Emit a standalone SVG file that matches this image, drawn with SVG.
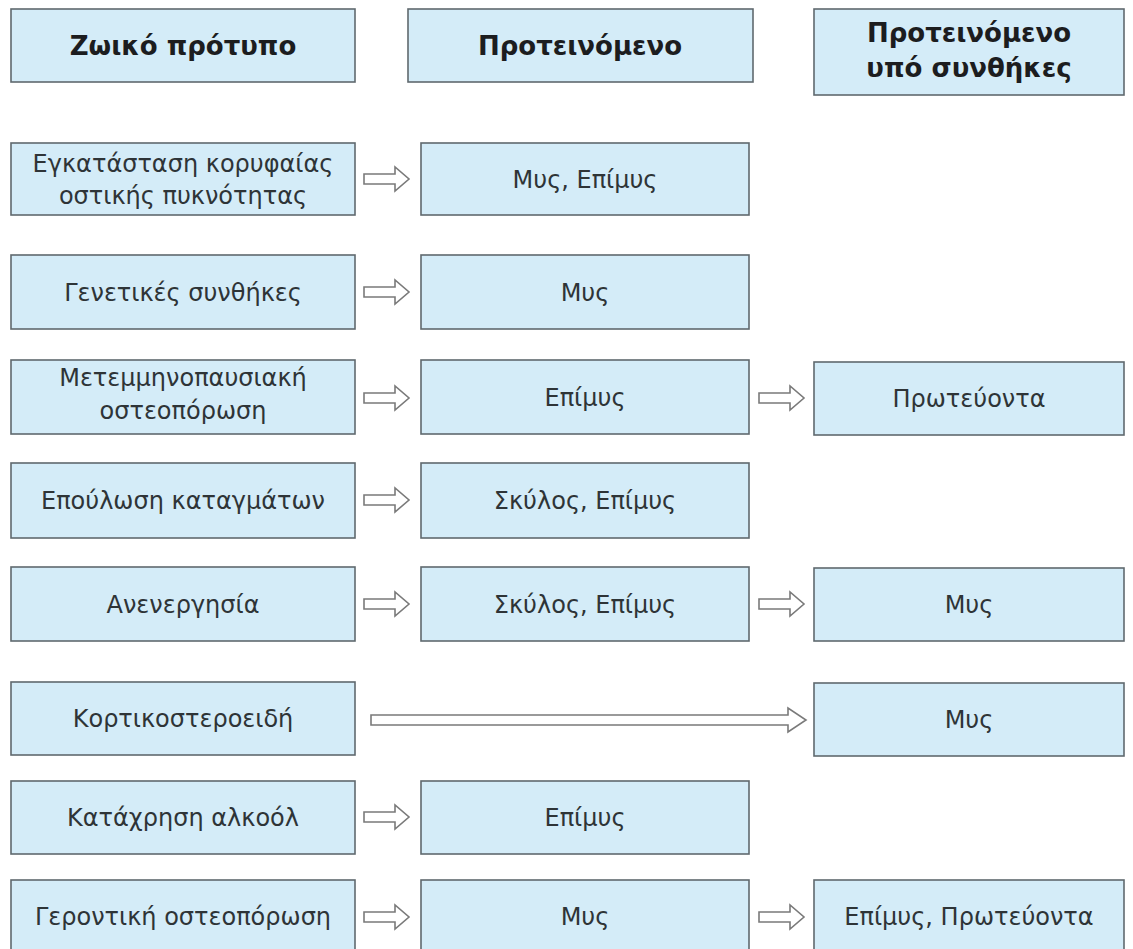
<svg xmlns="http://www.w3.org/2000/svg" width="1133" height="949" viewBox="0 0 1133 949">
<style>
.box{fill:#d4ecf8;stroke:#5f696e;stroke-width:1.6}
.hd{font-family:"DejaVu Sans","Liberation Sans",sans-serif;font-weight:bold;font-size:26px;fill:#1c1d1f;text-anchor:middle}
.tx{font-family:"DejaVu Sans","Liberation Sans",sans-serif;font-size:24px;fill:#2e3437;text-anchor:middle}
.ar{fill:#ffffff;stroke:#7a7a7a;stroke-width:1.6;stroke-linejoin:miter}
</style>
<rect width="1133" height="949" fill="#ffffff"/>
<g id="header1"><rect class="box" x="11" y="9" width="344" height="73"/><text class="hd" x="183" y="55">Ζωικό πρότυπο</text></g>
<g id="header2"><rect class="box" x="408" y="9" width="345" height="73"/><text class="hd" x="580" y="55">Προτεινόμενο</text></g>
<g id="header3"><rect class="box" x="814" y="9" width="310" height="86"/><text class="hd" x="969" y="42">Προτεινόμενο</text><text class="hd" x="969" y="77">υπό συνθήκες</text></g>

<g id="r1a"><rect class="box" x="11" y="143" width="344" height="72"/><text class="tx" x="183" y="172">Εγκατάσταση κορυφαίας</text><text class="tx" x="183" y="204">οστικής πυκνότητας</text></g>
<g id="r1b"><rect class="box" x="421" y="143" width="328" height="72"/><text class="tx" x="585" y="188">Μυς, Επίμυς</text></g>

<g id="r2a"><rect class="box" x="11" y="255" width="344" height="74"/><text class="tx" x="183" y="301">Γενετικές συνθήκες</text></g>
<g id="r2b"><rect class="box" x="421" y="255" width="328" height="74"/><text class="tx" x="585" y="301">Μυς</text></g>

<g id="r3a"><rect class="box" x="11" y="360" width="344" height="74"/><text class="tx" x="183" y="386">Μετεμμηνοπαυσιακή</text><text class="tx" x="183" y="419">οστεοπόρωση</text></g>
<g id="r3b"><rect class="box" x="421" y="360" width="328" height="74"/><text class="tx" x="585" y="406">Επίμυς</text></g>
<g id="r3c"><rect class="box" x="814" y="362" width="310" height="73"/><text class="tx" x="969" y="407">Πρωτεύοντα</text></g>

<g id="r4a"><rect class="box" x="11" y="463" width="344" height="75"/><text class="tx" x="183" y="509">Επούλωση καταγμάτων</text></g>
<g id="r4b"><rect class="box" x="421" y="463" width="328" height="75"/><text class="tx" x="585" y="509">Σκύλος, Επίμυς</text></g>

<g id="r5a"><rect class="box" x="11" y="567" width="344" height="74"/><text class="tx" x="183" y="613">Ανενεργησία</text></g>
<g id="r5b"><rect class="box" x="421" y="567" width="328" height="74"/><text class="tx" x="585" y="613">Σκύλος, Επίμυς</text></g>
<g id="r5c"><rect class="box" x="814" y="568" width="310" height="73"/><text class="tx" x="969" y="613">Μυς</text></g>

<g id="r6a"><rect class="box" x="11" y="682" width="344" height="73"/><text class="tx" x="183" y="727">Κορτικοστεροειδή</text></g>
<g id="r6c"><rect class="box" x="814" y="683" width="310" height="73"/><text class="tx" x="969" y="728">Μυς</text></g>

<g id="r7a"><rect class="box" x="11" y="781" width="344" height="73"/><text class="tx" x="183" y="826">Κατάχρηση αλκοόλ</text></g>
<g id="r7b"><rect class="box" x="421" y="781" width="328" height="73"/><text class="tx" x="585" y="826">Επίμυς</text></g>

<g id="r8a"><rect class="box" x="11" y="880" width="344" height="80"/><text class="tx" x="183" y="925">Γεροντική οστεοπόρωση</text></g>
<g id="r8b"><rect class="box" x="421" y="880" width="328" height="80"/><text class="tx" x="585" y="925">Μυς</text></g>
<g id="r8c"><rect class="box" x="814" y="880" width="310" height="80"/><text class="tx" x="969" y="925">Επίμυς, Πρωτεύοντα</text></g>

<g id="connectors">
<path class="ar" d="M364,174 H395 V167 L409,179 L395,191 V184 H364 Z"/>
<path class="ar" d="M364,287 H395 V280 L409,292 L395,304 V297 H364 Z"/>
<path class="ar" d="M364,393 H395 V386 L409,398 L395,410 V403 H364 Z"/>
<path class="ar" d="M759,393 H790 V386 L804,398 L790,410 V403 H759 Z"/>
<path class="ar" d="M364,495 H395 V488 L409,500 L395,512 V505 H364 Z"/>
<path class="ar" d="M364,599 H395 V592 L409,604 L395,616 V609 H364 Z"/>
<path class="ar" d="M759,599 H790 V592 L804,604 L790,616 V609 H759 Z"/>
<path class="ar" d="M371,715 H788 V708 L806,720 L788,732 V725 H371 Z"/>
<path class="ar" d="M364,812 H395 V805 L409,817 L395,829 V822 H364 Z"/>
<path class="ar" d="M364,912 H395 V905 L409,917 L395,929 V922 H364 Z"/>
<path class="ar" d="M759,912 H790 V905 L804,917 L790,929 V922 H759 Z"/>
</g>
</svg>
